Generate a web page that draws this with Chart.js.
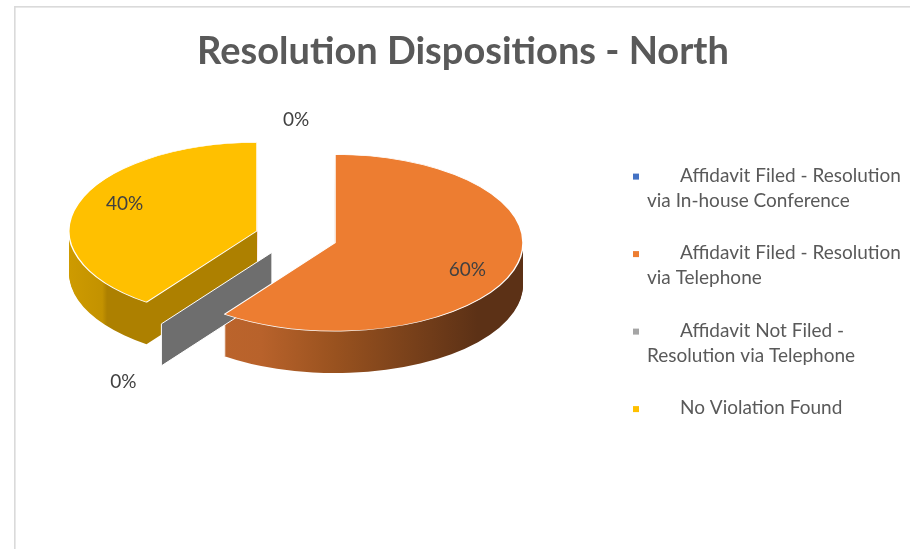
<!DOCTYPE html>
<html><head><meta charset="utf-8">
<script src="https://cdn.jsdelivr.net/npm/chart.js@4.4.1/dist/chart.umd.min.js"></script>
<style>html,body{margin:0;padding:0;background:#fff;overflow:hidden}</style>
</head><body>
<canvas id="c" width="910" height="549"></canvas>
<script>
// ---- data ----
const chartTitle = 'Resolution Dispositions - North';
const categories = [
  'Affidavit Filed - Resolution via In-house Conference',
  'Affidavit Filed - Resolution via Telephone',
  'Affidavit Not Filed - Resolution via Telephone',
  'No Violation Found'
];
const percentValues = [0, 60, 0, 40];

// ---- styles ----
const topColors = ['#4472C4', '#ED7D31', '#A5A5A5', '#FFC000'];
const sideStops = [
  [[0, '#2F528F'], [1, '#2F528F']],
  [[0, '#C56A2E'], [0.345, '#B8622B'], [0.5, '#99521F'], [0.8, '#5C3116'], [1, '#5C3116']],
  [[0, '#6E6E6E'], [1, '#6E6E6E']],
  [[0, '#DEA800'], [0.175, '#C39200'], [0.185, '#AD8000'], [1, '#AD8000']]
];
const K = 0.47;       // vertical squash (tilt)
const DEPTH = 42;     // pie thickness in px
const EXPLODE = 41;   // slice explosion distance
const PERSP = 0.089;  // label perspective factor
const FONT = 'Lato';

function squash(ctx, cx, cy) {
  ctx.translate(cx, cy); ctx.scale(1, K); ctx.translate(-cx, -cy);
}
function midAngle(arc) { return (arc.startAngle + arc.endAngle) / 2; }
function explodeVec(arc) {
  const a = midAngle(arc);
  return [Math.cos(a) * EXPLODE, Math.sin(a) * EXPLODE * K];
}
function sideFill(ctx, arc, i) {
  const x0 = arc.x - arc.outerRadius - 50, x1 = arc.x + arc.outerRadius + 50;
  const g = ctx.createLinearGradient(x0, 0, x1, 0);
  sideStops[i].forEach(s => g.addColorStop(s[0], s[1]));
  return g;
}

const pie3d = {
  id: 'pie3d',
  beforeDraw(chart) {
    const ctx = chart.ctx;
    ctx.save();
    ctx.fillStyle = '#DADADA';
    ctx.fillRect(14, 6, 1000, 1.6);
    ctx.fillRect(14, 6, 1.6, 1000);
    ctx.restore();
  },
  beforeDatasetDraw(chart, args) {
    const ctx = chart.ctx;
    const arcs = args.meta.data;
    const cx = arcs[0].x, cy = arcs[0].y;
    // extruded sides
    for (let d = DEPTH; d >= 1; d--) {
      arcs.forEach((arc, i) => {
        if (!(arc.circumference > 0)) return;
        const [dx, dy] = explodeVec(arc);
        ctx.save();
        ctx.translate(dx, dy + d);
        squash(ctx, cx, cy);
        const saved = arc.options;
        arc.options = Object.assign({}, saved, {backgroundColor: sideFill(ctx, arc, i), borderWidth: 0});
        arc.draw(ctx);
        arc.options = saved;
        ctx.restore();
      });
    }
    // zero-size slices appear as thin walls
    arcs.forEach((arc, i) => {
      if (arc.circumference > 0) return;
      const a = arc.startAngle, R = arc.outerRadius;
      const px = r => cx + Math.cos(a) * (r + EXPLODE);
      const py = r => cy + Math.sin(a) * (r + EXPLODE) * K;
      ctx.save();
      ctx.beginPath();
      ctx.moveTo(px(0), py(0));
      ctx.lineTo(px(R), py(R));
      ctx.lineTo(px(R), py(R) + DEPTH);
      ctx.lineTo(px(0), py(0) + DEPTH);
      ctx.closePath();
      ctx.fillStyle = sideStops[i][0][1];
      ctx.fill();
      ctx.strokeStyle = '#ffffff';
      ctx.lineWidth = 1;
      ctx.stroke();
      ctx.restore();
    });
    // top faces
    arcs.forEach(arc => {
      if (!(arc.circumference > 0)) return;
      const [dx, dy] = explodeVec(arc);
      ctx.save();
      ctx.translate(dx, dy);
      squash(ctx, cx, cy);
      arc.draw(ctx);
      ctx.restore();
    });
    return false;
  },
  afterDatasetsDraw(chart) {
    const ctx = chart.ctx;
    const arcs = chart.getDatasetMeta(0).data;
    const total = percentValues.reduce((s, v) => s + v, 0);
    ctx.save();
    ctx.font = '19px ' + FONT;
    ctx.fillStyle = '#404040';
    ctx.textAlign = 'center';
    ctx.textBaseline = 'middle';
    arcs.forEach((arc, i) => {
      const a = midAngle(arc);
      const R = arc.outerRadius;
      const zero = !(arc.circumference > 0);
      let x, y;
      if (zero) {
        const r = (R + 86) * (1 + PERSP * Math.sin(a));
        x = arc.x + Math.cos(a) * r;
        y = arc.y + Math.sin(a) * r * K + (Math.sin(a) > 0.2 ? DEPTH * 0.8 : 0);
      } else {
        const r = EXPLODE + 0.74 * R;
        x = arc.x + Math.cos(a) * r;
        y = arc.y + Math.sin(a) * r * 0.6;
      }
      const pct = Math.round(percentValues[i] / total * 100) + '%';
      ctx.fillText(pct, x, y);
    });
    ctx.restore();
  }
};

function wrapText(ctx, text, w1, w2) {
  const words = text.split(' ');
  const lines = [];
  let cur = '';
  words.forEach(w => {
    const test = cur ? cur + ' ' + w : w;
    const maxW = lines.length === 0 ? w1 : w2;
    if (cur && ctx.measureText(test).width > maxW) { lines.push(cur); cur = w; }
    else cur = test;
  });
  if (cur) lines.push(cur);
  return lines;
}

const sideLegend = {
  id: 'sideLegend',
  beforeInit(chart) {
    const box = {
      position: 'right', weight: 10, fullSize: false, options: {},
      left: 0, top: 0, right: 0, bottom: 0, width: 0, height: 0,
      isHorizontal() { return false; },
      update(maxW, maxH) { this.width = 334; this.height = maxH; },
      draw() {
        const ctx = chart.ctx;
        const left = this.left;
        ctx.save();
        ctx.font = '19px ' + FONT;
        ctx.textBaseline = 'alphabetic';
        ctx.textAlign = 'left';
        let y = chart.chartArea.top + 102;
        categories.forEach((label, i) => {
          const lines = wrapText(ctx, label, 228, 256);
          ctx.fillStyle = topColors[i];
          ctx.fillRect(left + 57, y - 8, 6, 6);
          ctx.fillStyle = '#595959';
          lines.forEach((ln, j) => ctx.fillText(ln, left + (j === 0 ? 104 : 71), y + j * 25));
          y += lines.length * 25 + 27.5;
        });
        ctx.restore();
      }
    };
    Chart.layouts.addBox(chart, box);
  }
};

new Chart(document.getElementById('c'), {
  type: 'pie',
  data: {
    labels: categories,
    datasets: [{
      data: percentValues,
      backgroundColor: topColors,
      borderColor: '#ffffff',
      borderWidth: 1.5,
      hoverOffset: 0,
      clip: false
    }]
  },
  options: {
    responsive: false,
    animation: false,
    devicePixelRatio: 1,
    radius: 188,
    layout: { padding: { left: 16, right: 0, top: 0, bottom: 155 } },
    plugins: {
      legend: { display: false },
      tooltip: { enabled: false },
      title: {
        display: true,
        text: chartTitle,
        color: '#595959',
        font: { family: FONT, size: 38, weight: 'bold' },
        padding: { top: 29, bottom: 5 }
      }
    }
  },
  plugins: [pie3d, sideLegend]
});
</script>
</body></html>
